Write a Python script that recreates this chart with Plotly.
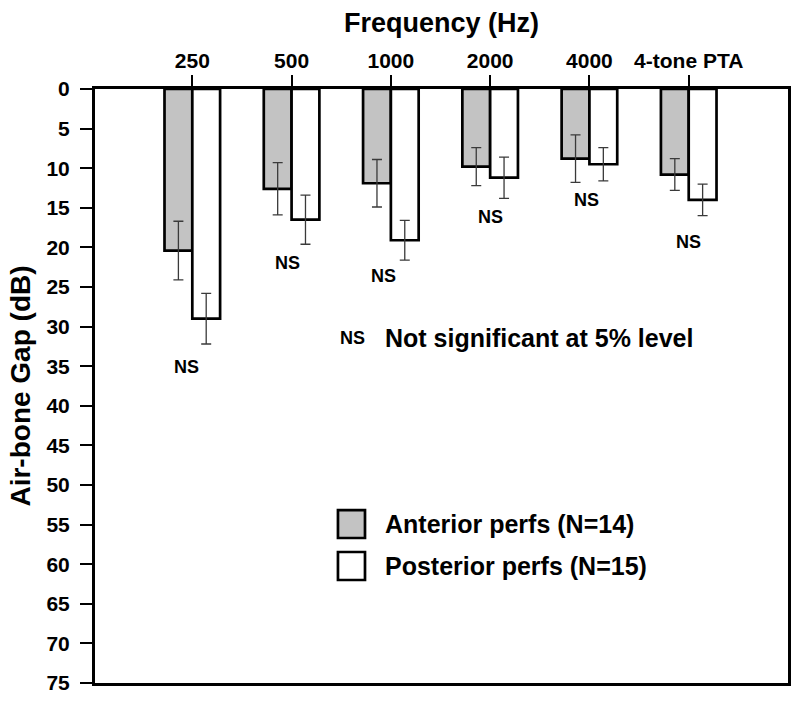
import plotly.graph_objects as go

# ---- data ----
categories = ["250", "500", "1000", "2000", "4000", "4-tone PTA"]
anterior = [20.4, 12.6, 11.9, 9.8, 8.8, 10.8]
anterior_err = [3.7, 3.3, 3.0, 2.4, 3.0, 2.0]
posterior = [29.0, 16.5, 19.1, 11.2, 9.5, 14.0]
posterior_err = [3.2, 3.1, 2.5, 2.6, 2.1, 2.0]
y_ticks = list(range(0, 80, 5))
ns_label = "NS"

# ---- layout helpers (placement only) ----
x_idx = list(range(len(categories)))
ns_x_offset = [-0.06, -0.04, -0.07, 0.0, -0.03, 0.0]
ns_y = [35.1, 22.0, 23.6, 16.1, 14.0, 19.35]

FONT = "Liberation Sans, Arial, Helvetica, sans-serif"
BAR_W = 0.28

fig = go.Figure()
fig.add_trace(go.Bar(
    x=x_idx, y=anterior, width=BAR_W, offset=-BAR_W,
    name="Anterior perfs (N=14)",
    marker=dict(color="#c3c3c3", line=dict(color="black", width=2.7)),
    error_y=dict(type="data", array=anterior_err, visible=True,
                 color="#3a3a3a", thickness=1.3, width=5),
    showlegend=False,
))
fig.add_trace(go.Bar(
    x=x_idx, y=posterior, width=BAR_W, offset=0,
    name="Posterior perfs (N=15)",
    marker=dict(color="white", line=dict(color="black", width=2.7)),
    error_y=dict(type="data", array=posterior_err, visible=True,
                 color="#3a3a3a", thickness=1.3, width=5),
    showlegend=False,
))

annotations = []
for i in x_idx:
    annotations.append(dict(
        x=i + ns_x_offset[i], y=ns_y[i], xref="x", yref="y",
        text=ns_label, showarrow=False,
        font=dict(family=FONT, size=18, color="black", weight="bold"),
        xanchor="center", yanchor="middle"))

annotations.append(dict(
    x=1.61, y=31.4, xref="x", yref="y", text=ns_label, showarrow=False,
    font=dict(family=FONT, size=18, color="black", weight="bold"),
    xanchor="center", yanchor="middle"))
annotations.append(dict(
    x=1.925, y=31.4, xref="x", yref="y", text="Not significant at 5% level",
    showarrow=False,
    font=dict(family=FONT, size=25, color="black", weight="bold"),
    xanchor="left", yanchor="middle"))

# legend (custom)
legend_items = [("Anterior perfs (N=14)", "#c3c3c3", 0.2912, 0.2441),
                ("Posterior perfs (N=15)", "white", 0.2205, 0.1734)]
shapes = []
for label, col, ytop, ybot in legend_items:
    shapes.append(dict(type="rect", xref="paper", yref="paper",
                       x0=0.3506, x1=0.3896, y0=ybot, y1=ytop,
                       fillcolor=col, line=dict(color="black", width=2.7)))
    annotations.append(dict(
        x=0.4156, y=(ytop + ybot) / 2, xref="paper", yref="paper",
        text=label, showarrow=False,
        font=dict(family=FONT, size=25, color="black", weight="bold"),
        xanchor="left", yanchor="middle"))

fig.update_layout(
    width=800, height=705,
    margin=dict(l=95, r=12, t=89, b=22, autoexpand=False),
    paper_bgcolor="white", plot_bgcolor="white",
    font=dict(family=FONT, color="black"),
    barmode="overlay",
    annotations=annotations,
    shapes=shapes,
    xaxis=dict(
        side="top", range=[-0.98, 6.0],
        tickvals=x_idx, ticktext=categories,
        ticks="outside", ticklen=11, tickwidth=2, tickcolor="black",
        ticklabelstandoff=-1,
        tickfont=dict(family=FONT, size=21, color="black", weight="bold"),
        showline=True, linecolor="black", linewidth=3, mirror=True,
        showgrid=False, zeroline=False, automargin=False,
        title=dict(text="Frequency (Hz)", standoff=9,
                   font=dict(family=FONT, size=27, color="black", weight="bold")),
    ),
    yaxis=dict(
        range=[75, 0], tickvals=y_ticks,
        ticks="outside", ticklen=12, tickwidth=2, tickcolor="black",
        ticklabelstandoff=6,
        tickfont=dict(family=FONT, size=21, color="black", weight="bold"),
        showline=True, linecolor="black", linewidth=3, mirror=True,
        showgrid=False, zeroline=False, automargin=False,
        title=dict(text="Air-bone Gap (dB)", standoff=8,
                   font=dict(family=FONT, size=28, color="black", weight="bold")),
    ),
)

fig.write_html(
    "out.html",
    config={"displayModeBar": False},
    post_script="document.body.style.margin='0';document.body.style.overflow='hidden';",
)
